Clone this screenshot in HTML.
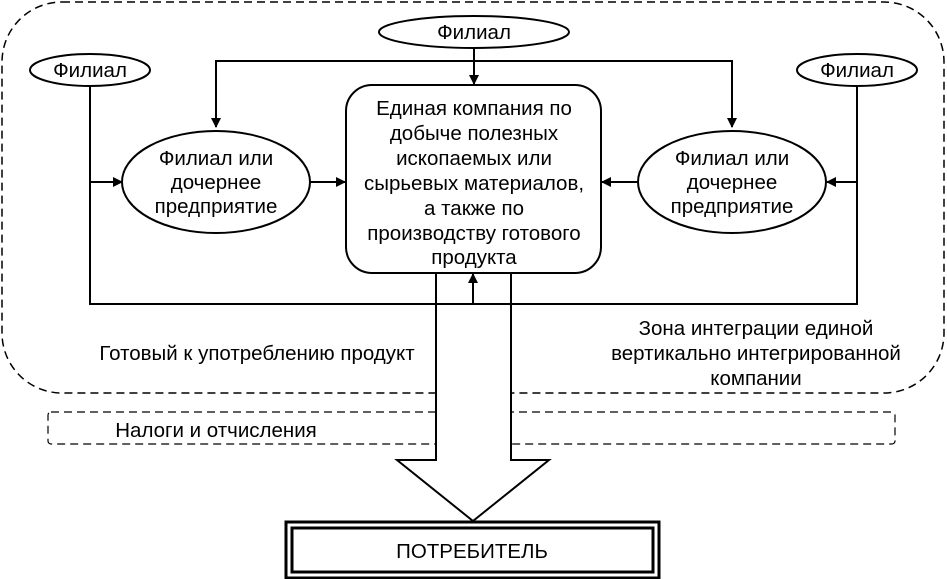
<!DOCTYPE html>
<html><head><meta charset="utf-8"><style>
html,body{margin:0;padding:0;background:#fff;}
svg{display:block;}
</style></head><body>
<svg width="947" height="579" viewBox="0 0 947 579" xmlns="http://www.w3.org/2000/svg">
<defs>
<marker id="a" markerWidth="10" markerHeight="10" refX="9" refY="5" orient="auto" markerUnits="userSpaceOnUse">
<path d="M0,0 L10,5 L0,10 z" fill="#000"/></marker>
</defs>
<g fill="none" stroke="#000" stroke-width="1.5">
<rect x="2" y="2" width="942" height="391" rx="60" stroke-dasharray="8,5"/>
<rect x="48" y="412" width="847" height="32" rx="3" stroke-dasharray="8,5" stroke-width="1.2"/>
</g>
<rect x="437" y="274" width="74" height="187" fill="#fff"/>
<g fill="none" stroke="#000" stroke-width="2">
<path d="M436,273 V460 H397 L473,521 L549,460 H511 V273"/>
<rect x="346" y="85" width="255" height="188" rx="26" fill="#fff"/>
<ellipse cx="216" cy="182" rx="94" ry="51"/>
<ellipse cx="732" cy="182" rx="94" ry="51"/>
<ellipse cx="474" cy="32" rx="95" ry="16"/>
<ellipse cx="90" cy="70" rx="60" ry="16"/>
<ellipse cx="857" cy="70" rx="60" ry="16"/>
<path d="M474,48 V84" marker-end="url(#a)"/>
<path d="M216,127 V61 H732 V127" />
<path d="M216,100 V127" marker-end="url(#a)"/>
<path d="M732,100 V127" marker-end="url(#a)"/>
<path d="M90,86 V304 H857 V86"/>
<path d="M90,182 H122" marker-end="url(#a)"/>
<path d="M310,182 H345" marker-end="url(#a)"/>
<path d="M857,182 H827" marker-end="url(#a)"/>
<path d="M637,182 H602" marker-end="url(#a)"/>
<path d="M473,304 V274" marker-end="url(#a)"/>
</g>
<rect x="286" y="522" width="373" height="56" fill="none" stroke="#000" stroke-width="3"/>
<rect x="292" y="528" width="361" height="44" fill="none" stroke="#000" stroke-width="3"/>
<g text-anchor="middle" font-family="Liberation Sans, Arial, sans-serif" font-size="20.5" fill="#000">
<text x="474" y="39">Филиал</text>
<text x="90" y="77">Филиал</text>
<text x="857" y="77">Филиал</text>
<text x="216" y="165">Филиал или</text>
<text x="216" y="189">дочернее</text>
<text x="216" y="213">предприятие</text>
<text x="732" y="165">Филиал или</text>
<text x="732" y="189">дочернее</text>
<text x="732" y="213">предприятие</text>
<text x="474" y="115">Единая компания по</text>
<text x="474" y="140">добыче полезных</text>
<text x="474" y="165">ископаемых или</text>
<text x="474" y="190">сырьевых материалов,</text>
<text x="474" y="215">а также по</text>
<text x="474" y="240">производству готового</text>
<text x="474" y="264">продукта</text>
<text x="257" y="360">Готовый к употреблению продукт</text>
<text x="756" y="335">Зона интеграции единой</text>
<text x="756" y="360">вертикально интегрированной</text>
<text x="756" y="385">компании</text>
<text x="216" y="437">Налоги и отчисления</text>
<text x="472" y="558">ПОТРЕБИТЕЛЬ</text>
</g>
</svg>
</body></html>
